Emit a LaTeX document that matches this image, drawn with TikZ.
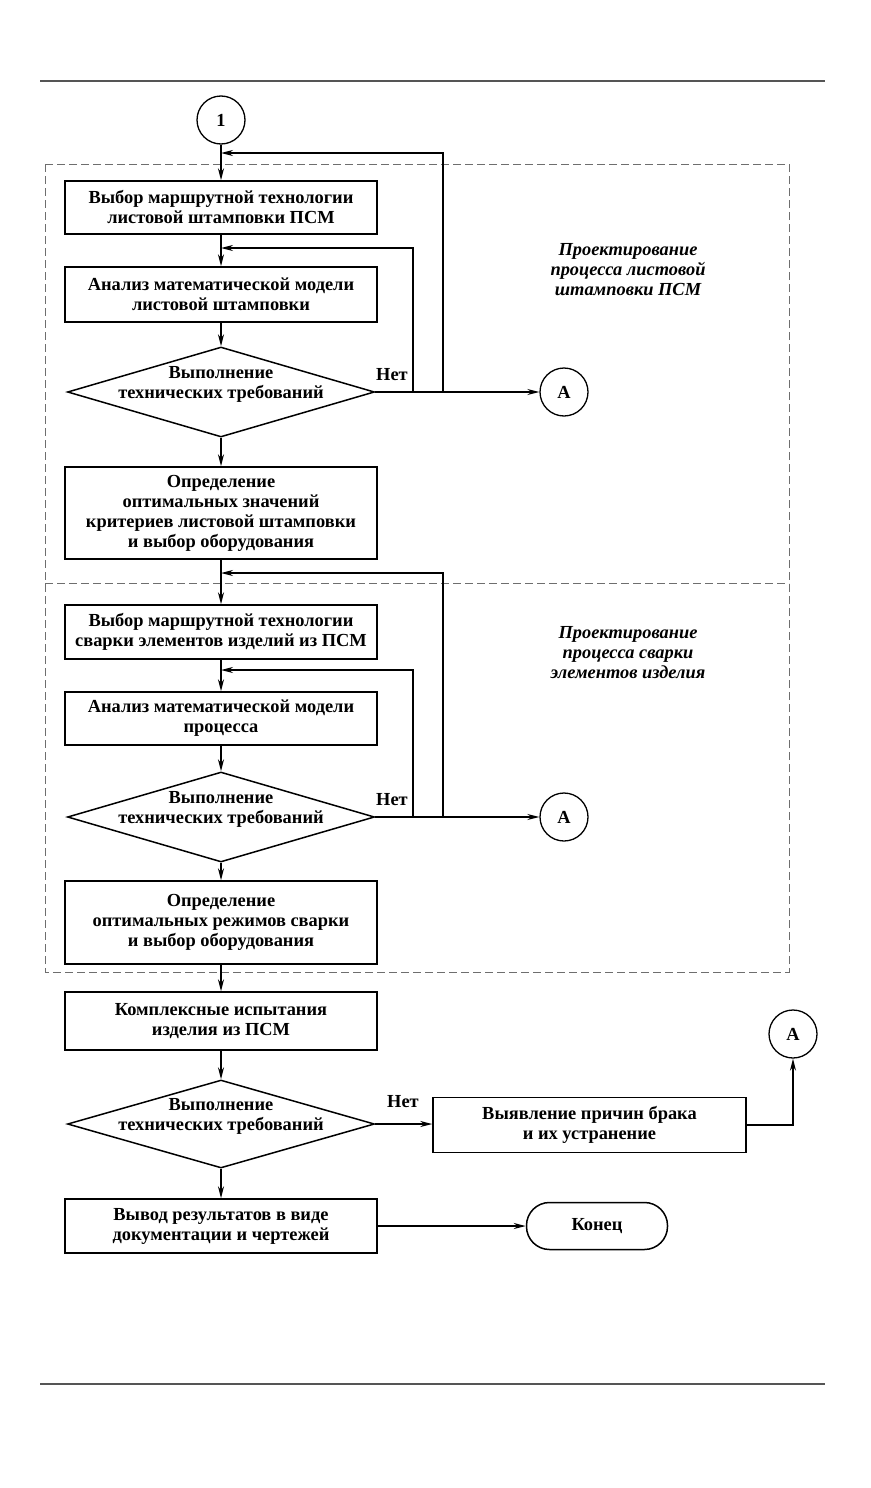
\documentclass[tikz,border=0pt]{standalone}
\usepackage{fontspec}
\setmainfont{Liberation Serif}
\usetikzlibrary{arrows.meta,shapes.geometric}
\definecolor{framegray}{HTML}{6E6E6E}
\definecolor{rulegray}{HTML}{555555}

\begin{document}
\begin{tikzpicture}[x=1pt,y=-1pt,
  txt/.style={font=\fontsize{18.4}{20}\selectfont\bfseries},
  blok/.style={draw, line width=1.5pt, txt, align=center, minimum width=312pt, minimum height=54pt, inner sep=2pt},
  uslovie/.style={draw, line width=1.5pt, diamond, minimum width=307pt, minimum height=90pt, inner sep=0pt},
  vopros/.style={txt, align=center, yshift=8pt},
  krug/.style={draw, line width=1.3pt, circle, minimum size=48pt, inner sep=0pt, txt},
  strelka/.style={line width=1.5pt, -{Stealth[length=12pt,width=6pt]}},
  ramka/.style={framegray, line width=1pt, dash pattern=on 8pt off 4pt},
  podpis/.style={font=\fontsize{18.4}{20}\selectfont\bfseries\itshape, align=center}]
  \useasboundingbox (0,0) rectangle (870,1488);
  % page rules
  \draw[rulegray, line width=1.3pt] (40,81) -- (825,81);
  \draw[rulegray, line width=1.3pt] (40,1384) -- (825,1384);
  % dashed frames of the two stages
  \draw[ramka] (45,164) rectangle (789,972);
  \draw[ramka] (45,583) -- (789,583);
  \node[podpis] (etap1) at (628,270) {Проектирование\\процесса листовой\\штамповки ПСМ};
  \node[podpis] (etap2) at (628,653) {Проектирование\\процесса сварки\\элементов изделия};

  % stage 1: sheet stamping
  \node[krug] (c1) at (221,120) {1};
  \node[blok, minimum height=53pt] (b1) at (221,207.5) {Выбор маршрутной технологии\\листовой штамповки ПСМ};
  \node[blok, minimum height=55pt] (b2) at (221,294.5) {Анализ математической модели\\листовой штамповки};
  \node[uslovie, label={[vopros]center:Выполнение\\технических требований}] (d1) at (221,392) {};
  \node[krug] (a1) at (564,392) {А};
  \node[txt] (net1) at (392,375) {Нет};
  \node[blok, minimum height=92pt] (b3) at (221,513) {Определение\\оптимальных значений\\критериев листовой штамповки\\и выбор оборудования};

  % stage 2: welding
  \node[blok, minimum height=54pt] (b4) at (221,632) {Выбор маршрутной технологии\\сварки элементов изделий из ПСМ};
  \node[blok, minimum height=53pt] (b5) at (221,718.5) {Анализ математической модели\\процесса};
  \node[uslovie, label={[vopros]center:Выполнение\\технических требований}] (d2) at (221,817) {};
  \node[krug] (a2) at (564,817) {А};
  \node[txt] (net2) at (392,800) {Нет};
  \node[blok, minimum height=83pt] (b6) at (221,922.5) {Определение\\оптимальных режимов сварки\\и выбор оборудования};

  % tests and output
  \node[blok, minimum height=58pt] (b7) at (221,1021) {Комплексные испытания\\изделия из ПСМ};
  \node[uslovie, minimum height=88pt, label={[vopros]center:Выполнение\\технических требований}] (d3) at (221,1124) {};
  \node[txt] (net3) at (403,1102) {Нет};
  \node[blok, minimum width=313pt, minimum height=55pt] (b8) at (589.5,1125) {Выявление причин брака\\и их устранение};
  \node[krug] (a3) at (793,1034) {А};
  \node[blok, minimum height=54pt] (b9) at (221,1226) {Вывод результатов в виде\\документации и чертежей};
  \node[draw, line width=1.5pt, txt, rounded corners=23pt, minimum width=141pt, minimum height=47pt] (konec) at (597,1226) {Конец};

  % return points of the loops
  \coordinate (v1) at (443,392); \coordinate (w1) at (221,153);
  \coordinate (v2) at (413,392); \coordinate (w2) at (221,248);
  \coordinate (v3) at (443,817); \coordinate (w3) at (221,573);
  \coordinate (v4) at (413,817); \coordinate (w4) at (221,670);

  % connectors
  \draw[strelka] (c1) -- (b1);
  \draw[strelka] (b1) -- (b2);
  \draw[strelka] (b2) -- (d1);
  \draw[strelka] (d1) -- (b3);
  \draw[strelka] (d1.east) -- (a1);
  \draw[strelka] (v1) |- (w1);
  \draw[strelka] (v2) |- (w2);
  \draw[strelka] (b3) -- (b4);
  \draw[strelka] (b4) -- (b5);
  \draw[strelka] (b5) -- (d2);
  \draw[strelka] (d2) -- (b6);
  \draw[strelka] (d2.east) -- (a2);
  \draw[strelka] (v3) |- (w3);
  \draw[strelka] (v4) |- (w4);
  \draw[strelka] (b6) -- (b7);
  \draw[strelka] (b7) -- (d3);
  \draw[strelka] (d3) -- (b9);
  \draw[strelka] (d3.east) -- (d3.east -| b8.west);
  \draw[strelka] (b8.east) -| (a3);
  \draw[strelka] (b9) -- (konec);
\end{tikzpicture}
\end{document}
